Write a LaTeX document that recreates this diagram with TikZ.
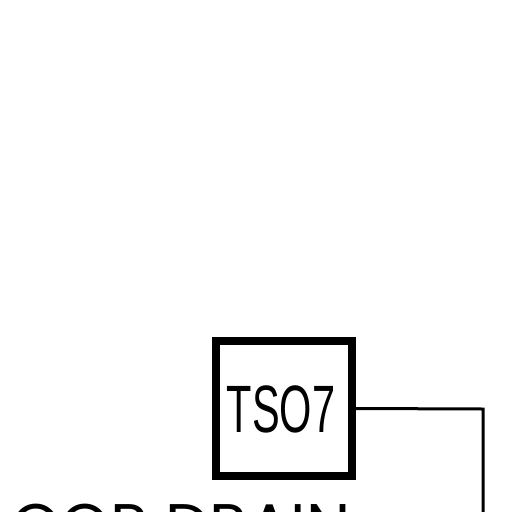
\documentclass[tikz,border=0pt]{standalone}
\usepackage{fontspec}
\setmainfont{Liberation Sans}
\newfontfamily\geofont{Poppins}
\begin{document}
\begin{tikzpicture}[x=1pt,y=-1pt,
  tagbox/.style={draw=black,line width=8pt,minimum width=136pt,minimum height=135pt,inner sep=0pt,fill=white},
  pipe/.style={draw=black,line width=3pt}]
\useasboundingbox (0,0) rectangle (512,512);
\clip (0,0) rectangle (512,512);
\node[tagbox] (tag) at (284,408.5) {};
\node[inner sep=0pt,xscale=0.62] (lbl) at (281,409) {\fontsize{67}{67}\selectfont TSO7};
\coordinate (corner) at (483,409);
\coordinate (down) at (483,520);
\draw[pipe] (tag.east) -- (corner) -- (down);
\node[inner sep=0pt,anchor=base west] (drain) at (11,548) {\geofont\fontsize{63}{63}\selectfont OOR DRAIN};
\end{tikzpicture}
\end{document}
